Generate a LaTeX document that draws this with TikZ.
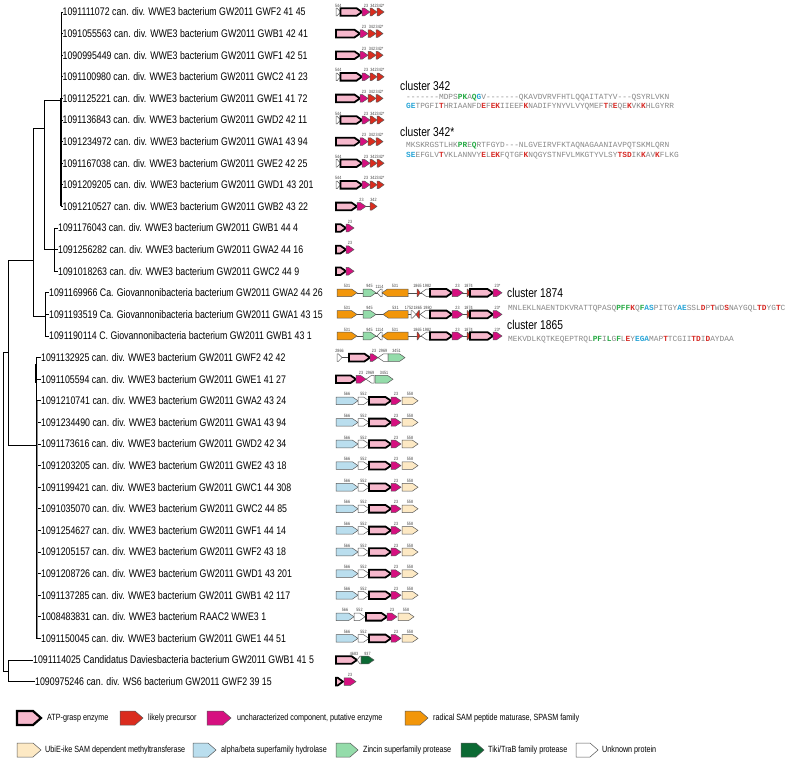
\documentclass[tikz,border=0pt]{standalone}
\usepackage{fontspec}
\setmainfont{Liberation Sans}[FakeStretch=0.8]
\setmonofont{Liberation Mono}
\usepackage{tikz}
\usetikzlibrary{positioning}
\definecolor{atppink}{RGB}{246,184,204}
\definecolor{precred}{RGB}{218,44,30}
\definecolor{unkmag}{RGB}{214,16,128}
\definecolor{samorange}{RGB}{242,150,10}
\definecolor{ubiepeach}{RGB}{253,233,196}
\definecolor{hydroblue}{RGB}{186,222,238}
\definecolor{zincgreen}{RGB}{148,220,170}
\definecolor{tikigreen}{RGB}{12,106,52}
\definecolor{seqgray}{RGB}{135,135,135}
\definecolor{seqgreen}{RGB}{40,170,70}
\definecolor{seqblue}{RGB}{40,165,215}
\definecolor{seqred}{RGB}{215,45,40}
\newcounter{gnum}
% one gene arrow: [label shift], style, start x, tip x, row y, number above
\newcommand{\genearrow}[6][0]{%
  \pgfmathsetmacro\gdir{sign(#4-#3)}%
  \pgfmathsetmacro\ghead{min(5.5,0.75*abs(#4-#3))}%
  \pgfmathsetmacro\gneck{#4-\gdir*\ghead}%
  \draw[#2] (#3,#5-3.8) -- (\gneck,#5-3.8) -- (#4,#5) -- (\gneck,#5+3.8) -- (#3,#5+3.8) -- cycle;
  \stepcounter{gnum}%
  \node[genenum] (gl\arabic{gnum}) at ({(#3+#4)/2+#1},#5-4.4) {#6};
}
% legend key: style, start x, tip x, y
\newcommand{\legendkey}[4]{%
  \draw[#1] (#2,#4-7) -- (#3-8,#4-7) -- (#3,#4) -- (#3-8,#4+7) -- (#2,#4+7) -- cycle;
}
\newcommand{\resg}[1]{{\bfseries\color{seqgreen}#1}}
\newcommand{\resb}[1]{{\bfseries\color{seqblue}#1}}
\newcommand{\resr}[1]{{\bfseries\color{seqred}#1}}
\begin{document}
\begin{tikzpicture}[x=1pt,y=-1pt]
  \tikzstyle{branch}=[line width=0.8pt]
  \tikzstyle{taxon}=[anchor=west,inner sep=0pt,font=\fontsize{11}{13}\selectfont]
  \tikzstyle{genenum}=[anchor=south,inner sep=0.2pt,text=black!75,font=\fontsize{4.6}{5}\selectfont]
  \tikzstyle{igline}=[line width=0.6pt,black!70]
  \tikzstyle{genebase}=[line width=0.5pt,draw=black!65,line join=miter]
  \tikzstyle{atpgene}=[fill=atppink,draw=black,line width=1.8pt,line join=miter]
  \tikzstyle{precgene}=[genebase,fill=precred]
  \tikzstyle{maggene}=[genebase,fill=unkmag]
  \tikzstyle{samgene}=[genebase,fill=samorange]
  \tikzstyle{ubiegene}=[genebase,fill=ubiepeach]
  \tikzstyle{hydgene}=[genebase,fill=hydroblue]
  \tikzstyle{zincgene}=[genebase,fill=zincgreen]
  \tikzstyle{tikigene}=[genebase,fill=tikigreen]
  \tikzstyle{unkgene}=[genebase,fill=white]
  \tikzstyle{clusterlab}=[anchor=west,inner sep=0pt,font=\fontsize{12.8}{14}\selectfont]
  \tikzstyle{seqline}=[anchor=west,inner sep=0pt,text=seqgray,font=\ttfamily\fontsize{7.83}{9}\selectfont]
  \tikzstyle{legendtext}=[anchor=west,inner sep=0pt,font=\fontsize{9}{10}\selectfont]
  \useasboundingbox[fill=white] (0,0) rectangle (787,763);

  % taxa and tip branches
  \foreach \px/\lx/\lab [count=\i] in {
    61/62.5/{1091111072 can. div. WWE3 bacterium GW2011 GWF2 41 45},
    61/62.5/{1091055563 can. div. WWE3 bacterium GW2011 GWB1 42 41},
    61/62.5/{1090995449 can. div. WWE3 bacterium GW2011 GWF1 42 51},
    61/62.5/{1091100980 can. div. WWE3 bacterium GW2011 GWC2 41 23},
    61/62.5/{1091125221 can. div. WWE3 bacterium GW2011 GWE1 41 72},
    61/62.5/{1091136843 can. div. WWE3 bacterium GW2011 GWD2 42 11},
    61/62.5/{1091234972 can. div. WWE3 bacterium GW2011 GWA1 43 94},
    61/62.5/{1091167038 can. div. WWE3 bacterium GW2011 GWE2 42 25},
    61/62.5/{1091209205 can. div. WWE3 bacterium GW2011 GWD1 43 201},
    61/62.5/{1091210527 can. div. WWE3 bacterium GW2011 GWB2 43 22},
    54/58/{1091176043 can. div. WWE3 bacterium GW2011 GWB1 44 4},
    54/58/{1091256282 can. div. WWE3 bacterium GW2011 GWA2 44 16},
    54/58/{1091018263 can. div. WWE3 bacterium GW2011 GWC2 44 9},
    45/49/{1091169966 Ca. Giovannonibacteria bacterium GW2011 GWA2 44 26},
    45/49/{1091193519 Ca. Giovannonibacteria bacterium GW2011 GWA1 43 15},
    45/49/{1091190114 C. Giovannonibacteria bacterium GW2011 GWB1 43 1},
    36/41/{1091132925 can. div. WWE3 bacterium GW2011 GWF2 42 42},
    36/41/{1091105594 can. div. WWE3 bacterium GW2011 GWE1 41 27},
    36/41/{1091210741 can. div. WWE3 bacterium GW2011 GWA2 43 24},
    36/41/{1091234490 can. div. WWE3 bacterium GW2011 GWA1 43 94},
    36/41/{1091173616 can. div. WWE3 bacterium GW2011 GWD2 42 34},
    36/41/{1091203205 can. div. WWE3 bacterium GW2011 GWE2 43 18},
    36/41/{1091199421 can. div. WWE3 bacterium GW2011 GWC1 44 308},
    36/41/{1091035070 can. div. WWE3 bacterium GW2011 GWC2 44 85},
    36/41/{1091254627 can. div. WWE3 bacterium GW2011 GWF1 44 14},
    36/41/{1091205157 can. div. WWE3 bacterium GW2011 GWF2 43 18},
    36/41/{1091208726 can. div. WWE3 bacterium GW2011 GWD1 43 201},
    36/41/{1091137285 can. div. WWE3 bacterium GW2011 GWB1 42 117},
    36/41/{1008483831 can. div. WWE3 bacterium RAAC2 WWE3 1},
    36/41/{1091150045 can. div. WWE3 bacterium GW2011 GWE1 44 51},
    8/33/{1091114025 Candidatus Daviesbacteria bacterium GW2011 GWB1 41 5},
    8/35/{1090975246 can. div. WS6 bacterium GW2011 GWF2 39 15}}
  {
    \pgfmathsetmacro\ty{12+(\i-1)*21.6}
    \node[taxon] (t\i) at (\lx,\ty) {\lab};
    \draw[branch] (\px,\ty) -- (t\i.west);
  }

  % internal nodes of the tree
  \coordinate (nA) at (61,100);
  \coordinate (nB) at (54,249.6);
  \coordinate (nAB) at (44,128);
  \coordinate (nG) at (45,316);
  \coordinate (nABG) at (33,260);
  \coordinate (nC) at (36,445);
  \coordinate (nX) at (8,352);
  \coordinate (nD) at (8,671);
  \coordinate (nR) at (3,500);
  \draw[branch] (nAB) |- (nA);
  \draw[branch] (nAB) |- (nB);
  \draw[branch] (nABG) |- (nAB);
  \draw[branch] (nABG) |- (nG);
  \draw[branch] (nX) |- (nABG);
  \draw[branch] (nX) |- (nC);
  \draw[branch] (nR) |- (nX);
  \draw[branch] (nR) |- (nD);
  \draw[branch] (61,12) -- (61,206.4);
  \draw[branch,line width=1.5pt] (61,98.4) -- (61,206.4);
  \draw[branch] (54,228) -- (54,271.2);
  \draw[branch] (45,292.8) -- (45,336);
  \draw[branch] (36,357.6) -- (36,638.4);
  \draw[branch,line width=1.8pt] (36,364) -- (36,383);
  \draw[line width=1.2pt,black!45] (37.2,401) -- (37.2,638.4);
  \draw[branch] (8,660) -- (8,681.6);

  % cluster 342 operons
  \foreach \y in {12,76.8,120,163.2,184.8}{
    \genearrow{unkgene}{336}{340.5}{\y}{544}
    \genearrow{atpgene}{340.5}{362}{\y}{}
    \genearrow{maggene}{362}{370}{\y}{23}
    \genearrow{precgene}{370}{377}{\y}{342}
    \genearrow{precgene}{377}{384}{\y}{342*}
  }
  \foreach \y in {33.6,55.2,98.4,141.6}{
    \genearrow{atpgene}{336}{360}{\y}{}
    \genearrow{maggene}{360}{368}{\y}{23}
    \genearrow{precgene}{368}{376}{\y}{342}
    \genearrow{precgene}{376}{383}{\y}{342*}
  }
  \draw[igline] (366,206.4) -- (370,206.4);
  \genearrow{atpgene}{336}{357}{206.4}{}
  \genearrow{maggene}{357}{366}{206.4}{23}
  \genearrow{precgene}{370}{377}{206.4}{342}
  \foreach \y/\num in {228/23,249.6/23,271.2/{}}{
    \genearrow{atpgene}{336}{346}{\y}{}
    \genearrow{maggene}{346}{354}{\y}{\num}
  }

  % cluster 1874 / 1865 operons
  \foreach \y in {292.8,336}{
    \draw[igline] (357,\y) -- (467,\y);
    \genearrow{samgene}{337}{357}{\y}{531}
    \genearrow{zincgene}{363}{376}{\y}{945}
    \genearrow{unkgene}{382}{377}{\y}{1114}
    \genearrow{samgene}{408}{382}{\y}{531}
    \genearrow[-1]{precgene}{417}{420}{\y}{1865}
    \genearrow[1.5]{unkgene}{430}{421}{\y}{1982}
    \genearrow{atpgene}{430}{452}{\y}{}
    \genearrow{maggene}{452}{463}{\y}{23}
    \genearrow{precgene}{467}{470}{\y}{1874}
    \genearrow{atpgene}{470}{493}{\y}{}
    \genearrow{maggene}{493}{502}{\y}{23*}
  }
  \draw[igline] (357,314.4) -- (467,314.4);
  \genearrow{samgene}{337}{357}{314.4}{531}
  \genearrow{zincgene}{363}{376}{314.4}{945}
  \genearrow{samgene}{408}{383}{314.4}{531}
  \genearrow[-4.5]{unkgene}{411}{416}{314.4}{1752}
  \genearrow{precgene}{419.5}{416}{314.4}{1865}
  \genearrow[2.5]{unkgene}{430}{420}{314.4}{1980}
  \genearrow{atpgene}{430}{452}{314.4}{}
  \genearrow{maggene}{452}{463}{314.4}{23}
  \genearrow{precgene}{467}{470}{314.4}{1874}
  \genearrow{atpgene}{470}{493}{314.4}{}
  \genearrow{maggene}{493}{502}{314.4}{23*}

  % zincin operons
  \draw[igline] (342,357.6) -- (349,357.6);
  \genearrow{unkgene}{337}{342}{357.6}{2866}
  \genearrow{atpgene}{349}{370}{357.6}{}
  \genearrow{maggene}{370}{378}{357.6}{23}
  \genearrow{unkgene}{388}{378}{357.6}{2969}
  \genearrow{zincgene}{388}{405}{357.6}{3451}
  \genearrow{atpgene}{336}{356}{379.2}{}
  \genearrow{maggene}{356}{366}{379.2}{23}
  \genearrow{unkgene}{374}{366}{379.2}{2969}
  \genearrow{zincgene}{375}{393}{379.2}{3451}

  % hydrolase operons
  \foreach \y in {400.8,422.4,444,465.6,487.2,508.8,530.4,552,573.6,595.2,638.4}{
    \genearrow{hydgene}{336}{358}{\y}{566}
    \genearrow{unkgene}{358}{369}{\y}{552}
    \genearrow{atpgene}{369}{391}{\y}{}
    \genearrow{maggene}{391}{401}{\y}{23}
    \genearrow{ubiegene}{402}{418}{\y}{558}
  }
  \genearrow{hydgene}{336}{354}{616.8}{566}
  \genearrow{unkgene}{354}{365}{616.8}{552}
  \genearrow{atpgene}{366}{387}{616.8}{}
  \genearrow{maggene}{387}{397}{616.8}{23}
  \genearrow{ubiegene}{398}{414}{616.8}{558}

  % outgroups
  \genearrow{atpgene}{336}{357}{660}{}
  \genearrow[-5]{unkgene}{361}{357}{660}{4683}
  \genearrow{tikigene}{361}{374}{660}{937}
  \genearrow{atpgene}{336}{343}{681.6}{}
  \genearrow{maggene}{344}{356}{681.6}{23}

  % precursor alignments
  \node[clusterlab] (c342) at (400,86) {cluster 342};
  \node[seqline] (s342a) at (406,97.5) {-------MDPS\resg{PK}A\resg{Q}\resb{G}V-------QKAVDVRVFHTLQQAITATYV---QSYRLVKN};
  \node[seqline] (s342b) at (406,107) {\resb{GE}TPGFI\resr{T}HRIAANFD\resr{E}F\resr{EK}IIEEF\resr{K}NADIFYNYVLVYQMEF\resr{T}R\resr{E}QE\resr{K}VK\resr{K}HLGYRR};
  \node[clusterlab] (c342s) at (400,132) {cluster 342*};
  \node[seqline] (s342sa) at (406,146) {MKSKRGSTLHK\resg{PR}E\resg{Q}RTFGYD---NLGVEIRVFKTAQNAGAANIAVPQTSKMLQRN};
  \node[seqline] (s342sb) at (406,156) {\resb{SE}EFGLV\resr{T}VKLANNVY\resr{E}L\resr{EK}FQTGF\resr{K}NQGYSTNFVLMKGTYVLSY\resr{TSD}IK\resr{K}AV\resr{K}FLKG};
  \node[clusterlab] (c1874) at (507,293) {cluster 1874};
  \node[seqline] (s1874) at (508,309) {MNLEKLNAENTDKVRATTQPASQ\resg{PFF}\resr{K}Q\resg{F}\resb{AS}PITGY\resb{AE}SSL\resr{D}P\resr{T}WD\resr{S}NAYGQL\resr{TD}YG\resr{T}C};
  \node[clusterlab] (c1865) at (507,325) {cluster 1865};
  \node[seqline] (s1865) at (508,340) {MEKVDLKQTKEQEPTRQL\resg{PF}I\resg{L}G\resg{F}L\resr{E}Y\resb{EGA}MAP\resr{T}TCGII\resr{TD}I\resr{D}AYDAA};

  % legend
  \legendkey{atpgene,line width=2.2pt}{17}{41}{718}
  \node[legendtext] (l1) at (47,718) {ATP-grasp enzyme};
  \legendkey{precgene}{120}{143}{718}
  \node[legendtext] (l2) at (148,718) {likely precursor};
  \legendkey{maggene}{207}{231}{718}
  \node[legendtext] (l3) at (237,718) {uncharacterized component, putative enzyme};
  \legendkey{samgene}{405}{428}{718}
  \node[legendtext] (l4) at (433,718) {radical SAM peptide maturase, SPASM family};
  \legendkey{ubiegene}{17}{41}{750}
  \node[legendtext] (l5) at (45,750) {UbiE-ike SAM dependent methyltransferase};
  \legendkey{hydgene}{193}{216}{750}
  \node[legendtext] (l6) at (221,750) {alpha/beta superfamily hydrolase};
  \legendkey{zincgene}{336}{358}{750}
  \node[legendtext] (l7) at (363,750) {Zincin superfamily protease};
  \legendkey{tikigene}{461}{484}{750}
  \node[legendtext] (l8) at (488,750) {Tiki/TraB family protease};
  \legendkey{unkgene}{576}{598}{750}
  \node[legendtext] (l9) at (602,750) {Unknown protein};
\end{tikzpicture}
\end{document}
